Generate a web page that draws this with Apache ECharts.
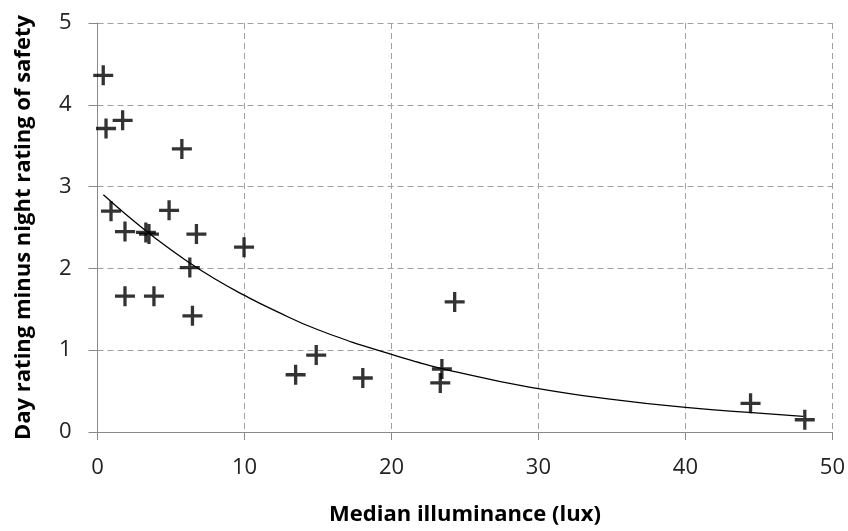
<!DOCTYPE html>
<html>
<head>
<meta charset="utf-8">
<script src="https://cdn.jsdelivr.net/npm/echarts@6/dist/echarts.min.js"></script>
<style>html,body{margin:0;padding:0;background:#fff}#c{width:848px;height:531px}</style>
</head>
<body>
<div id="c"></div>
<script>
// Scatter observations: median illuminance (lux) vs day-minus-night safety rating
const pointX = [0.39, 0.58, 1.71, 5.74, 0.92, 4.87, 1.87, 3.29, 3.50, 6.73, 9.97, 6.28, 1.87, 3.84, 6.46, 13.48, 14.88, 18.05, 23.43, 23.32, 24.3, 44.43, 48.12];
const pointY = [4.36, 3.71, 3.81, 3.46, 2.70, 2.71, 2.45, 2.44, 2.42, 2.42, 2.26, 2.01, 1.66, 1.66, 1.42, 0.70, 0.94, 0.66, 0.77, 0.60, 1.59, 0.35, 0.15];
// Fitted trend curve
const curveX = [0.4, 2, 4, 6, 8, 10, 12, 15, 20, 25, 30, 35, 40, 45, 48];
const curveY = [2.90, 2.65, 2.36, 2.10, 1.87, 1.67, 1.49, 1.25, 0.95, 0.71, 0.53, 0.40, 0.30, 0.23, 0.19];
const xTicks = [0, 10, 20, 30, 40, 50];
const yTicks = [0, 1, 2, 3, 4, 5];
const xTitle = 'Median illuminance (lux)';
const yTitle = 'Day rating minus night rating of safety';

const pts = pointX.map((x, i) => [x, pointY[i]]);
const curve = curveX.map((x, i) => [x, curveY[i]]);
const plus = 'path://M8.35,0H11.65V8.35H20V11.65H11.65V20H8.35V11.65H0V8.35H8.35Z';
const font = "'Open Sans', sans-serif";

const chart = echarts.init(document.getElementById('c'), null, {renderer: 'canvas'});
chart.setOption({
  animation: false,
  backgroundColor: '#fff',
  grid: {left: 97.5, right: 13.5, top: 23, bottom: 94, containLabel: false},
  xAxis: {
    type: 'value', min: xTicks[0], max: xTicks[xTicks.length - 1], interval: 10,
    name: xTitle, nameLocation: 'middle', nameGap: 72,
    nameTextStyle: {fontFamily: font, fontWeight: 'bold', fontSize: 22, color: '#000'},
    axisLine: {show: true, lineStyle: {color: '#898989', width: 1}},
    axisTick: {show: true, inside: false, length: 8, lineStyle: {color: '#898989'}},
    axisLabel: {margin: 25, fontFamily: font, fontSize: 22, color: '#222'},
    splitLine: {show: true, lineStyle: {color: '#a0a0a0', type: [6, 4], width: 1}}
  },
  yAxis: {
    type: 'value', min: yTicks[0], max: yTicks[yTicks.length - 1], interval: 1,
    name: yTitle, nameLocation: 'middle', nameGap: 63, nameRotate: 90,
    nameTextStyle: {fontFamily: font, fontWeight: 'bold', fontSize: 22, color: '#000'},
    axisLine: {show: true, lineStyle: {color: '#898989', width: 1}},
    axisTick: {show: true, inside: false, length: 9, lineStyle: {color: '#898989'}},
    axisLabel: {margin: 26, fontFamily: font, fontSize: 22, color: '#222'},
    splitLine: {show: true, lineStyle: {color: '#a0a0a0', type: [6, 4], width: 1}}
  },
  series: [
    {
      type: 'line', data: curve, smooth: true, showSymbol: false, symbol: 'none',
      lineStyle: {color: '#000', width: 1.3}, z: 2
    },
    {
      type: 'scatter', data: pts, symbol: plus, symbolSize: 20,
      itemStyle: {color: '#000'}, z: 3
    }
  ]
});
</script>
</body>
</html>
